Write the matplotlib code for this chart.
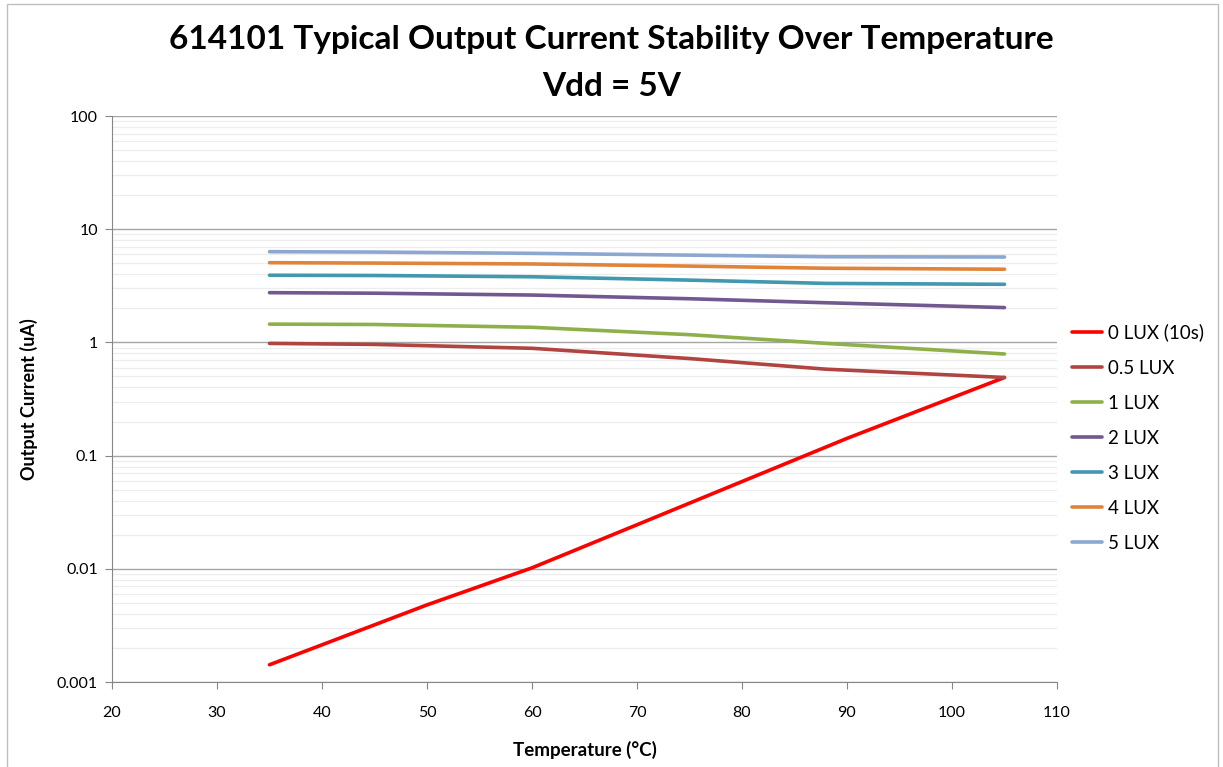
import matplotlib
matplotlib.use("Agg")
import matplotlib.pyplot as plt
from matplotlib.patches import Rectangle
from matplotlib.ticker import LogLocator, FixedLocator, NullFormatter

# ---- data ----
temps = [35, 50, 60, 70, 80, 90, 105]
lux0 = [0.00142, 0.0048, 0.0102, 0.0245, 0.059, 0.142, 0.49]
temps_b = [35, 45, 60, 75, 88, 105]
lux05 = [0.98, 0.96, 0.887, 0.72, 0.58, 0.49]
lux1 = [1.45, 1.44, 1.36, 1.17, 0.98, 0.79]
lux2 = [2.75, 2.72, 2.62, 2.43, 2.24, 2.03]
lux3 = [3.92, 3.90, 3.80, 3.55, 3.32, 3.26]
lux4 = [5.06, 5.02, 4.93, 4.72, 4.52, 4.43]
lux5 = [6.33, 6.28, 6.12, 5.90, 5.71, 5.68]
labels = ["0 LUX (10s)", "0.5 LUX", "1 LUX", "2 LUX", "3 LUX", "4 LUX", "5 LUX"]
colors = ["#FF0000", "#B04440", "#8DB04A", "#71588F", "#4198AF", "#E0843C", "#8DA8D0"]
xticks = [20, 30, 40, 50, 60, 70, 80, 90, 100, 110]
yticks = [0.001, 0.01, 0.1, 1, 10, 100]
ytick_labels = ["0.001", "0.01", "0.1", "1", "10", "100"]

plt.rcParams['font.family'] = ['Lato', 'DejaVu Sans']

W, H = 1223, 767
fig = plt.figure(figsize=(W / 100, H / 100), dpi=100)
fig.patches.append(Rectangle((7 / W, -0.01), (1218 - 7) / W, 1.01 - 4 / H, transform=fig.transFigure,
                             fill=False, edgecolor="#BFBFBF", linewidth=1.0))
ax = fig.add_axes([112 / W, 1 - 682 / H, (1057 - 112) / W, (682 - 116) / H])

series = [(temps, lux0), (temps_b, lux05), (temps_b, lux1), (temps_b, lux2),
          (temps_b, lux3), (temps_b, lux4), (temps_b, lux5)]
for (xs, ys), lab, c in zip(series, labels, colors):
    ax.plot(xs, ys, color=c, lw=2.6, label=lab, solid_capstyle='round', zorder=3)

ax.set_yscale('log')
ax.set_xlim(20, 110)
ax.set_ylim(0.001, 100)
ax.xaxis.set_major_locator(FixedLocator(xticks))
ax.yaxis.set_major_locator(FixedLocator(yticks))
ax.set_yticklabels(ytick_labels)
ax.yaxis.set_minor_locator(LogLocator(base=10, subs=range(2, 10)))
ax.yaxis.set_minor_formatter(NullFormatter())
ax.grid(True, which='major', axis='y', color="#A6A6A6", lw=1.0, zorder=1)
ax.grid(True, which='minor', axis='y', color="#EDEDED", lw=0.9, zorder=0)
ax.tick_params(axis='y', which='minor', length=0)
ax.tick_params(axis='both', which='major', labelsize=11.5, color="#868686", length=5, direction='out')
ax.tick_params(axis='x', which='major', pad=12)
ax.tick_params(axis='y', which='major', pad=5)
for s in ['top', 'right']:
    ax.spines[s].set_visible(False)
for s in ['left', 'bottom']:
    ax.spines[s].set_color("#868686")

ax.set_xlabel("Temperature (°C)", fontsize=13.5, fontweight='bold', labelpad=15)
ax.set_ylabel("Output Current (uA)", fontsize=13, fontweight='bold', labelpad=14)

fig.text(0.5, 1 - 39 / H, "614101 Typical Output Current Stability Over Temperature",
         ha='center', va='center', fontsize=24, fontweight='bold')
fig.text(0.5, 1 - 86 / H, "Vdd = 5V", ha='center', va='center', fontsize=24, fontweight='bold')

ax_w = 1057 - 112
ax_h = 682 - 116
leg = ax.legend(loc='upper left', bbox_to_anchor=((1064 - 112) / ax_w, (682 - 316) / ax_h),
                bbox_transform=ax.transAxes, frameon=False,
                fontsize=13.5, handlelength=1.65, handletextpad=0.3, labelspacing=0.965,
                borderaxespad=0)

fig.savefig("out.png", dpi=100)
